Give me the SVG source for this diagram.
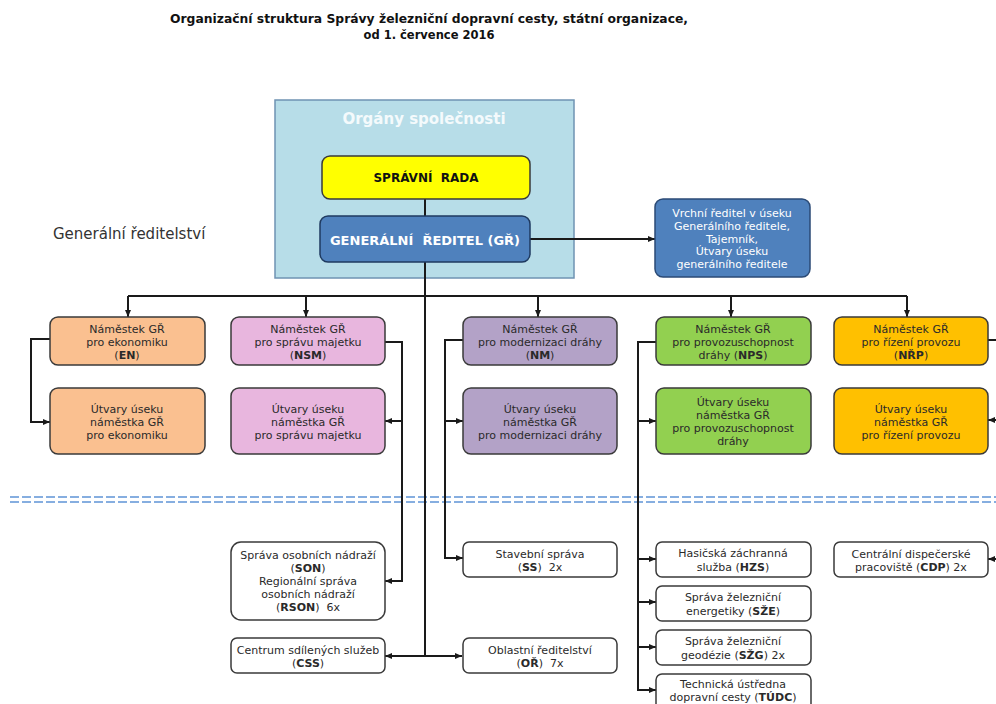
<svg xmlns="http://www.w3.org/2000/svg" width="996" height="704" viewBox="0 0 996 704">
<defs>
<marker id="ah" markerWidth="7" markerHeight="6" refX="7" refY="3" orient="auto" markerUnits="userSpaceOnUse"><path d="M0,0 L7,3 L0,6 Z" fill="#1a1a1a"/></marker>
</defs>
<style>
.t{font-family:"DejaVu Sans",Verdana,sans-serif;font-size:11px;fill:#2a2a2a;text-anchor:middle;white-space:pre}
.w{fill:#ffffff}
.b{font-weight:bold}
.box{stroke:#3a3a3a;stroke-width:1.5}
.wb{fill:#ffffff;stroke:#3a3a3a;stroke-width:1.5}
.c{fill:none;stroke:#1a1a1a;stroke-width:2}
.ca{fill:none;stroke:#1a1a1a;stroke-width:2;marker-end:url(#ah)}
.dash{fill:none;stroke:#86aee0;stroke-width:2;stroke-dasharray:9 3}
</style>
<rect x="0" y="0" width="996" height="704" fill="#ffffff"/>

<g id="title">
<text class="t b" x="429" y="23" style="font-size:11.5px;fill:#111" textLength="518" lengthAdjust="spacingAndGlyphs">Organizační struktura Správy železniční dopravní cesty, státní organizace,</text>
<text class="t b" x="429" y="39" style="font-size:11.5px;fill:#111">od 1. července 2016</text>
</g>

<g id="label-gr">
<text class="t" x="53" y="239" style="font-size:15px;text-anchor:start;fill:#333">Generální ředitelství</text>
</g>

<g id="separator">
<line class="dash" x1="10" y1="497" x2="996" y2="497"/>
<line class="dash" x1="10" y1="502" x2="996" y2="502"/>
</g>

<g id="organy">
<rect x="275" y="100" width="299" height="178" fill="#b7dde8" stroke="#6f93b3" stroke-width="1.5"/>
<text class="t b" x="424" y="124" style="font-size:15px;fill:#f4fafc">Orgány společnosti</text>
</g>

<g id="connectors">
<path class="c" d="M425,199 V216"/>
<path class="c" d="M425,262 V656"/>
<path class="ca" d="M425,656 H385"/>
<path class="ca" d="M425,656 H462"/>
<path class="ca" d="M530,239 H655"/>
<path class="c" d="M128,296 H907"/>
<path class="ca" d="M128,296 V317"/>
<path class="ca" d="M306,296 V317"/>
<path class="ca" d="M538,296 V317"/>
<path class="ca" d="M731,296 V317"/>
<path class="ca" d="M907,296 V317"/>
<path class="ca" d="M50,339 H31 V422 H50"/>
<path class="ca" d="M385,342 H402 V581 H385"/>
<path class="ca" d="M402,421 H385"/>
<path class="ca" d="M463,340 H445 V558 H463"/>
<path class="ca" d="M445,421 H463"/>
<path class="ca" d="M656,342 H638 V690 H656"/>
<path class="ca" d="M638,421 H656"/>
<path class="ca" d="M638,559 H656"/>
<path class="ca" d="M638,602 H656"/>
<path class="ca" d="M638,647 H656"/>
<path class="c" d="M988,340 H996"/>
<path class="ca" d="M997,420 H988"/>
<path class="ca" d="M997,559 H988"/>
</g>

<g id="spravni-rada">
<rect class="box" x="322" y="156" width="208" height="43" rx="8" fill="#ffff00"/>
<text class="t b" x="426" y="182" style="font-size:12px;fill:#111">SPRÁVNÍ  RADA</text>
</g>

<g id="gr">
<rect x="320" y="216" width="210" height="46" rx="8" fill="#4f81bd" stroke="#1f3a60" stroke-width="1.5"/>
<text class="t b w" x="425" y="245" style="font-size:13px">GENERÁLNÍ  ŘEDITEL (GŘ)</text>
</g>

<g id="vrchni">
<rect x="655" y="199" width="155" height="78" rx="8" fill="#4f81bd" stroke="#2b4a75" stroke-width="1.5"/>
<text class="t w" x="732" y="217">Vrchní ředitel v úseku</text>
<text class="t w" x="732" y="230">Generálního ředitele,</text>
<text class="t w" x="732" y="243">Tajemník,</text>
<text class="t w" x="732" y="255">Útvary úseku</text>
<text class="t w" x="732" y="268">generálního ředitele</text>
</g>

<g id="en">
<rect class="box" x="50" y="317" width="155" height="48" rx="8" fill="#fac090"/>
<text class="t" x="127" y="333">Náměstek GŘ</text>
<text class="t" x="127" y="346">pro ekonomiku</text>
<text class="t" x="127" y="359">(<tspan class="b">EN</tspan>)</text>
</g>
<g id="en-utvary">
<rect class="box" x="50" y="388" width="155" height="66" rx="8" fill="#fac090"/>
<text class="t" x="127" y="413">Útvary úseku</text>
<text class="t" x="127" y="426">náměstka GŘ</text>
<text class="t" x="127" y="439">pro ekonomiku</text>
</g>

<g id="nsm">
<rect class="box" x="231" y="317" width="154" height="48" rx="8" fill="#e8b6de"/>
<text class="t" x="308" y="333">Náměstek GŘ</text>
<text class="t" x="308" y="346">pro správu majetku</text>
<text class="t" x="308" y="359">(<tspan class="b">NSM</tspan>)</text>
</g>
<g id="nsm-utvary">
<rect class="box" x="231" y="388" width="154" height="66" rx="8" fill="#e8b6de"/>
<text class="t" x="308" y="413">Útvary úseku</text>
<text class="t" x="308" y="426">náměstka GŘ</text>
<text class="t" x="308" y="439">pro správu majetku</text>
</g>

<g id="nm">
<rect class="box" x="463" y="317" width="154" height="48" rx="8" fill="#b3a2c7"/>
<text class="t" x="540" y="333">Náměstek GŘ</text>
<text class="t" x="540" y="346">pro modernizaci dráhy</text>
<text class="t" x="540" y="359">(<tspan class="b">NM</tspan>)</text>
</g>
<g id="nm-utvary">
<rect class="box" x="463" y="388" width="154" height="66" rx="8" fill="#b3a2c7"/>
<text class="t" x="540" y="413">Útvary úseku</text>
<text class="t" x="540" y="426">náměstka GŘ</text>
<text class="t" x="540" y="439">pro modernizaci dráhy</text>
</g>

<g id="nps">
<rect class="box" x="656" y="317" width="155" height="48" rx="8" fill="#92d050"/>
<text class="t" x="733" y="333">Náměstek GŘ</text>
<text class="t" x="733" y="346">pro provozuschopnost</text>
<text class="t" x="733" y="359">dráhy (<tspan class="b">NPS</tspan>)</text>
</g>
<g id="nps-utvary">
<rect class="box" x="656" y="388" width="155" height="66" rx="8" fill="#92d050"/>
<text class="t" x="733" y="406">Útvary úseku</text>
<text class="t" x="733" y="419">náměstka GŘ</text>
<text class="t" x="733" y="432">pro provozuschopnost</text>
<text class="t" x="733" y="445">dráhy</text>
</g>

<g id="nrp">
<rect class="box" x="834" y="317" width="154" height="48" rx="8" fill="#ffc000"/>
<text class="t" x="911" y="333">Náměstek GŘ</text>
<text class="t" x="911" y="346">pro řízení provozu</text>
<text class="t" x="911" y="359">(<tspan class="b">NŘP</tspan>)</text>
</g>
<g id="nrp-utvary">
<rect class="box" x="834" y="388" width="154" height="66" rx="8" fill="#ffc000"/>
<text class="t" x="911" y="413">Útvary úseku</text>
<text class="t" x="911" y="426">náměstka GŘ</text>
<text class="t" x="911" y="439">pro řízení provozu</text>
</g>

<g id="son">
<rect class="wb" x="231" y="542" width="154" height="78" rx="10"/>
<text class="t" x="308" y="559">Správa osobních nádraží</text>
<text class="t" x="308" y="572">(<tspan class="b">SON</tspan>)</text>
<text class="t" x="308" y="585">Regionální správa</text>
<text class="t" x="308" y="598">osobních nádraží</text>
<text class="t" x="308" y="611">(<tspan class="b">RSON</tspan>)  6x</text>
</g>

<g id="css">
<rect class="wb" x="231" y="638" width="154" height="35" rx="6"/>
<text class="t" x="308" y="654">Centrum sdílených služeb</text>
<text class="t" x="308" y="667">(<tspan class="b">CSS</tspan>)</text>
</g>

<g id="ss">
<rect class="wb" x="463" y="542" width="154" height="35" rx="6"/>
<text class="t" x="540" y="558">Stavební správa</text>
<text class="t" x="540" y="571">(<tspan class="b">SS</tspan>)  2x</text>
</g>

<g id="or">
<rect class="wb" x="463" y="638" width="154" height="35" rx="6"/>
<text class="t" x="540" y="654">Oblastní ředitelství</text>
<text class="t" x="540" y="667">(<tspan class="b">OŘ</tspan>)  7x</text>
</g>

<g id="hzs">
<rect class="wb" x="656" y="542" width="155" height="35" rx="6"/>
<text class="t" x="733" y="557">Hasičská záchranná</text>
<text class="t" x="733" y="571">služba (<tspan class="b">HZS</tspan>)</text>
</g>

<g id="sze">
<rect class="wb" x="656" y="586" width="155" height="35" rx="6"/>
<text class="t" x="733" y="601">Správa železniční</text>
<text class="t" x="733" y="615">energetiky (<tspan class="b">SŽE</tspan>)</text>
</g>

<g id="szg">
<rect class="wb" x="656" y="630" width="155" height="35" rx="6"/>
<text class="t" x="733" y="645">Správa železniční</text>
<text class="t" x="733" y="659">geodézie (<tspan class="b">SŽG</tspan>) 2x</text>
</g>

<g id="tudc">
<rect class="wb" x="656" y="674" width="155" height="40" rx="6"/>
<text class="t" x="733" y="688">Technická ústředna</text>
<text class="t" x="733" y="701">dopravní cesty (<tspan class="b">TÚDC</tspan>)</text>
</g>

<g id="cdp">
<rect class="wb" x="834" y="542" width="154" height="35" rx="6"/>
<text class="t" x="911" y="558">Centrální dispečerské</text>
<text class="t" x="911" y="571">pracoviště (<tspan class="b">CDP</tspan>) 2x</text>
</g>
</svg>
